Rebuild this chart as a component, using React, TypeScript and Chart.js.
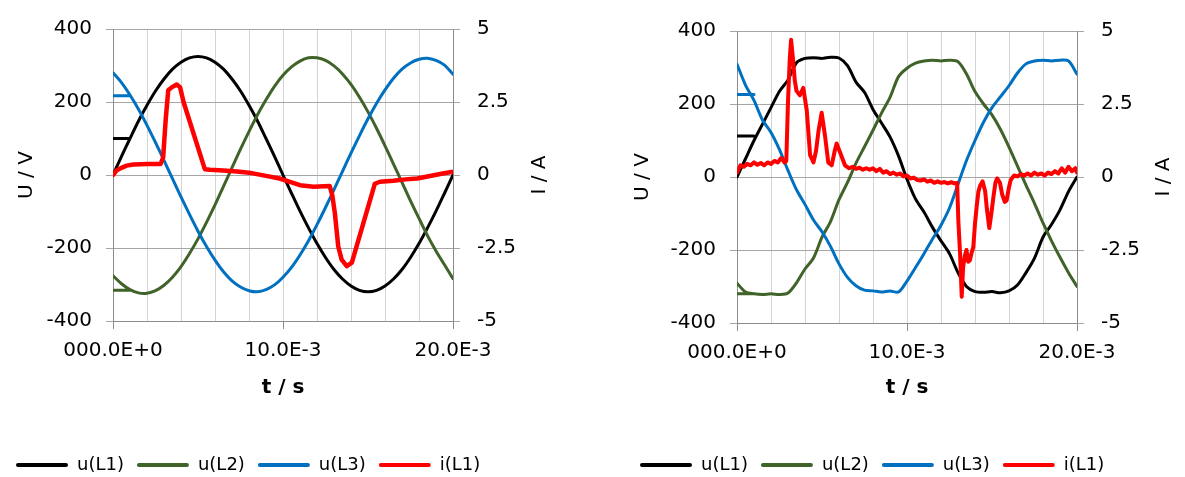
import React, { useEffect, useRef } from "react";
import { Chart, registerables } from "chart.js";

Chart.register(...registerables);

const FONT = "'DejaVu Sans', sans-serif";
Chart.defaults.font.family = FONT;

// ---- shared axis / legend data ----
const SERIES_NAMES = ["u(L1)", "u(L2)", "u(L3)", "i(L1)"];
const SERIES_COLORS = ["#000000", "#40632a", "#0070c0", "#ff0000"];
const X_TICK_VALUES = [0, 10, 20]; // ms
const X_TICK_LABELS = ["000.0E+0", "10.0E-3", "20.0E-3"];
const X_TITLE = "t / s";
const Y_LEFT_TITLE = "U / V";
const Y_RIGHT_TITLE = "I / A";

// time grid for voltages (ms)
const T_MS = [0, 0.5, 1, 1.5, 2, 2.5, 3, 3.5, 4, 4.5, 5, 5.5, 6, 6.5, 7, 7.5, 8, 8.5, 9, 9.5, 10,
  10.5, 11, 11.5, 12, 12.5, 13, 13.5, 14, 14.5, 15, 15.5, 16, 16.5, 17, 17.5, 18, 18.5, 19, 19.5, 20];
// short horizontal start segment of each voltage trace (ms)
const STUB_T_MS = [0, 1];

// ---- left chart ----
const LEFT_U1 = [0, 51, 100, 148, 191, 230, 263, 290, 309, 321, 325, 321, 309, 290, 263, 230, 191, 148, 100, 51, 0,
  -50, -99, -145, -188, -226, -259, -285, -304, -316, -320, -316, -304, -285, -259, -226, -188, -145, -99, -50, 0];
const LEFT_U2 = [-276, -298, -314, -323, -324, -317, -302, -280, -251, -215, -175, -130, -82, -31, 20, 71, 119, 165, 206, 243, 273,
  296, 312, 321, 321, 314, 299, 277, 248, 213, 173, 128, 80, 30, -20, -71, -119, -166, -208, -246, -284];
const LEFT_U3 = [280, 253, 219, 180, 136, 89, 40, -10, -60, -108, -154, -196, -233, -265, -290, -307, -317, -320, -314, -301, -280,
  -253, -219, -180, -136, -89, -40, 10, 60, 108, 154, 196, 233, 265, 290, 307, 317, 320, 314, 301, 276];
const LEFT_STUBS = [100, -316, 217];
const LEFT_I_T = [0, 0.2, 0.4, 0.8, 1.2, 2.0, 2.8, 2.95, 3.1, 3.25, 3.45, 3.75, 3.95, 4.15, 5.4, 5.7, 6.5, 7.3, 8.0, 9.0,
  9.8, 10.5, 11.0, 11.8, 12.75, 12.9, 13.05, 13.25, 13.45, 13.75, 14.05, 15.4, 15.7, 16.5, 17.2, 17.9, 18.8, 19.4, 19.9, 20];
const LEFT_I = [0, 0.15, 0.22, 0.32, 0.36, 0.38, 0.38, 0.6, 1.9, 2.9, 3.0, 3.1, 3.0, 2.5, 0.2, 0.18, 0.15, 0.12, 0.08, -0.03,
  -0.12, -0.25, -0.35, -0.4, -0.38, -0.7, -1.3, -2.45, -2.9, -3.12, -3.0, -0.3, -0.23, -0.2, -0.15, -0.12, -0.02, 0.05, 0.1, 0.1];

// ---- right chart ----
const RIGHT_U1 = [0, 50, 100, 145, 190, 235, 266, 313, 325, 327, 325, 328, 326, 305, 260, 232, 185, 148, 110, 58, -6,
  -60, -96, -138, -175, -210, -262, -300, -314, -316, -314, -317, -312, -296, -262, -222, -165, -130, -90, -40, 0];
const RIGHT_U2 = [-291, -315, -320, -322, -320, -322, -318, -290, -252, -222, -165, -122, -62, -15, 38, 83, 128, 175, 218, 275, 298,
  312, 318, 320, 318, 320, 316, 282, 234, 200, 170, 130, 82, 30, -22, -72, -126, -175, -220, -262, -300];
const RIGHT_U3 = [309, 252, 210, 156, 122, 75, 18, -35, -75, -118, -150, -190, -238, -275, -298, -310, -312, -315, -312, -315, -285,
  -248, -210, -170, -132, -85, -20, 45, 100, 150, 190, 220, 250, 285, 310, 318, 320, 318, 320, 318, 282];
const RIGHT_STUBS = [112, -320, 226];
const RIGHT_I_T = [0, 0.2, 0.4, 0.6, 0.8, 1.0, 1.2, 1.4, 1.6, 1.8,
  2.0, 2.2, 2.4, 2.6, 2.8, 2.9, 3.0, 3.1, 3.18, 3.3,
  3.4, 3.5, 3.7, 3.9, 4.1, 4.3, 4.5, 4.65, 4.8, 4.98,
  5.18, 5.37, 5.57, 5.75, 5.86, 6.06, 6.35, 6.6, 6.8, 7.0,
  7.2, 7.4, 7.6, 7.8, 8.0, 8.2, 8.4, 8.6, 8.8, 9.0,
  9.2, 9.4, 9.6, 9.8, 10.0, 10.2, 10.4, 10.6, 10.8, 11.0,
  11.2, 11.4, 11.6, 11.8, 12.0, 12.2, 12.4, 12.6, 12.8, 12.95,
  13.02, 13.12, 13.22, 13.3, 13.4, 13.5, 13.6, 13.7, 13.8, 13.9,
  14.0, 14.1, 14.2, 14.3, 14.45, 14.6, 14.7, 14.84, 14.95, 15.08,
  15.2, 15.3, 15.47, 15.6, 15.75, 15.86, 16.0, 16.1, 16.3, 16.5,
  16.7, 16.9, 17.1, 17.3, 17.5, 17.7, 17.9, 18.1, 18.3, 18.5,
  18.7, 18.9, 19.1, 19.3, 19.5, 19.7, 19.9, 20.0];
const RIGHT_I = [0.15, 0.4, 0.35, 0.45, 0.4, 0.5, 0.42, 0.48, 0.4, 0.5,
  0.45, 0.55, 0.5, 0.65, 0.5, 0.55, 2.6, 4.0, 4.7, 4.0,
  3.3, 2.95, 2.8, 3.05, 2.3, 0.75, 0.5, 0.9, 1.6, 2.2,
  1.4, 0.5, 0.4, 0.9, 1.15, 0.85, 0.4, 0.3, 0.35, 0.28,
  0.32, 0.25, 0.3, 0.25, 0.3, 0.2, 0.28, 0.15, 0.2, 0.1,
  0.15, 0.08, 0.12, 0.02, 0.05, -0.05, -0.02, -0.1, -0.12, -0.08,
  -0.16, -0.12, -0.2, -0.15, -0.2, -0.17, -0.22, -0.18, -0.22, -0.2,
  -1.5, -2.6, -4.1, -3.1, -2.7, -2.5, -2.9, -2.85, -2.6, -2.4,
  -1.6, -1.0, -0.5, -0.3, -0.15, -0.5, -1.1, -1.75, -1.3, -0.7,
  -0.2, -0.05, -0.2, -0.6, -0.85, -0.8, -0.35, -0.1, 0.05, 0.02,
  0.1, 0.05, 0.12, 0.05, 0.15, 0.08, 0.12, 0.05, 0.15, 0.1,
  0.2, 0.12, 0.3, 0.15, 0.35, 0.2, 0.3, 0.15];

type Pt = { x: number; y: number | null };

function voltageLine(values: number[], stub: number): Pt[] {
  const pts: Pt[] = STUB_T_MS.map((x) => ({ x, y: stub }));
  pts.push({ x: STUB_T_MS[STUB_T_MS.length - 1], y: null });
  T_MS.forEach((x, i) => pts.push({ x, y: values[i] }));
  return pts;
}

function currentLine(t: number[], values: number[]): Pt[] {
  return t.map((x, i) => ({ x, y: values[i] }));
}

type PanelCfg = {
  u: number[][];
  stubs: number[];
  iT: number[];
  i: number[];
  yTitlePad: number;
  xAxisHeight: number;
  currentWidth: number;
};

const rightTitlePlugin = {
  id: "rightTitle",
  afterDraw(chart: any) {
    const { ctx, chartArea } = chart;
    ctx.save();
    ctx.translate(chartArea.right + 87, (chartArea.top + chartArea.bottom) / 2);
    ctx.rotate(-Math.PI / 2);
    ctx.font = `20px ${FONT}`;
    ctx.fillStyle = "#000";
    ctx.textAlign = "center";
    ctx.textBaseline = "middle";
    ctx.fillText(Y_RIGHT_TITLE, 0, 0);
    ctx.restore();
  },
};

function Panel({ cfg, left, top, height }: { cfg: PanelCfg; left: number; top: number; height: number }) {
  const ref = useRef<HTMLCanvasElement | null>(null);
  useEffect(() => {
    if (!ref.current) return;
    const datasets: any[] = cfg.u.map((vals, k) => ({
      label: SERIES_NAMES[k],
      data: voltageLine(vals, cfg.stubs[k]),
      borderColor: SERIES_COLORS[k],
      backgroundColor: SERIES_COLORS[k],
      borderWidth: 3,
      pointRadius: 0,
      tension: 0.3,
      spanGaps: false,
      yAxisID: "y",
      order: 3 - k,
      borderCapStyle: "round",
      borderJoinStyle: "round",
    }));
    datasets.push({
      label: SERIES_NAMES[3],
      data: currentLine(cfg.iT, cfg.i),
      borderColor: SERIES_COLORS[3],
      backgroundColor: SERIES_COLORS[3],
      borderWidth: cfg.currentWidth,
      pointRadius: 0,
      tension: 0,
      yAxisID: "y1",
      order: 0,
      borderCapStyle: "round",
      borderJoinStyle: "round",
    });
    const tickFont = { family: FONT, size: 20 };
    const chart = new Chart(ref.current, {
      type: "line",
      data: { datasets },
      options: {
        animation: false,
        responsive: true,
        maintainAspectRatio: false,
        layout: { padding: { left: 3, right: 0, top: 24, bottom: -7 } },
        plugins: {
          tooltip: { enabled: false },
          legend: {
            position: "bottom",
            align: "start",
            labels: {
              boxWidth: 52,
              boxHeight: 4,
              padding: 13,
              color: "#000",
              font: { family: FONT, size: 18 },
              generateLabels: (c: any) =>
                c.data.datasets.map((ds: any, idx: number) => ({
                  text: ds.label,
                  fillStyle: ds.borderColor,
                  strokeStyle: ds.borderColor,
                  lineWidth: 0,
                  hidden: false,
                  datasetIndex: idx,
                  fontColor: "#000",
                  borderRadius: 2,
                })),
            },
          },
        },
        scales: {
          x: {
            type: "linear",
            min: 0,
            max: 20,
            afterFit: (s: any) => {
              s.height = cfg.xAxisHeight;
            },
            ticks: {
              stepSize: 2,
              autoSkip: false,
              maxRotation: 0,
              minRotation: 0,
              padding: 10,
              color: "#000",
              font: tickFont,
              callback: (v: any) => {
                const k = X_TICK_VALUES.indexOf(Number(v));
                return k >= 0 ? X_TICK_LABELS[k] : "";
              },
            },
            grid: {
              color: "#d4d4d4",
              tickLength: 8,
              tickColor: (ctx: any) =>
                ctx.tick && X_TICK_VALUES.includes(ctx.tick.value) ? "#8c8c8c" : "rgba(0,0,0,0)",
            },
            border: { color: "#8c8c8c" },
            title: {
              display: true,
              text: X_TITLE,
              color: "#000",
              font: { family: FONT, size: 20, weight: "bold" },
              padding: { top: 0, bottom: 43 },
            },
          },
          y: {
            position: "left",
            min: -400,
            max: 400,
            afterFit: (s: any) => {
              s.width = 110;
            },
            ticks: { stepSize: 200, padding: 14, color: "#000", font: tickFont },
            grid: { color: "#a6a6a6", tickLength: 7 },
            border: { color: "#8c8c8c" },
            title: {
              display: true,
              text: Y_LEFT_TITLE,
              color: "#000",
              font: { family: FONT, size: 20 },
              padding: { top: cfg.yTitlePad, bottom: 0 },
            },
          },
          y1: {
            position: "right",
            min: -5,
            max: 5,
            afterFit: (s: any) => {
              s.width = 107;
            },
            ticks: { stepSize: 2.5, padding: 17, color: "#000", font: tickFont },
            grid: { drawOnChartArea: false, color: "#a6a6a6", tickLength: 7 },
            border: { color: "#8c8c8c" },
          },
        },
      } as any,
      plugins: [rightTitlePlugin],
    });
    return () => chart.destroy();
  }, [cfg]);
  return (
    <div style={{ position: "absolute", left, top, width: 560, height }}>
      <canvas ref={ref} />
    </div>
  );
}

const LEFT_CFG: PanelCfg = {
  u: [LEFT_U1, LEFT_U2, LEFT_U3],
  stubs: LEFT_STUBS,
  iT: LEFT_I_T,
  i: LEFT_I,
  yTitlePad: 12,
  xAxisHeight: 122,
  currentWidth: 4.5,
};

const RIGHT_CFG: PanelCfg = {
  u: [RIGHT_U1, RIGHT_U2, RIGHT_U3],
  stubs: RIGHT_STUBS,
  iT: RIGHT_I_T,
  i: RIGHT_I,
  yTitlePad: 4,
  xAxisHeight: 120,
  currentWidth: 4,
};

export default function App() {
  return (
    <div>
      <Panel cfg={LEFT_CFG} left={0} top={0} height={477} />
      <Panel cfg={RIGHT_CFG} left={624} top={2} height={475} />
    </div>
  );
}
